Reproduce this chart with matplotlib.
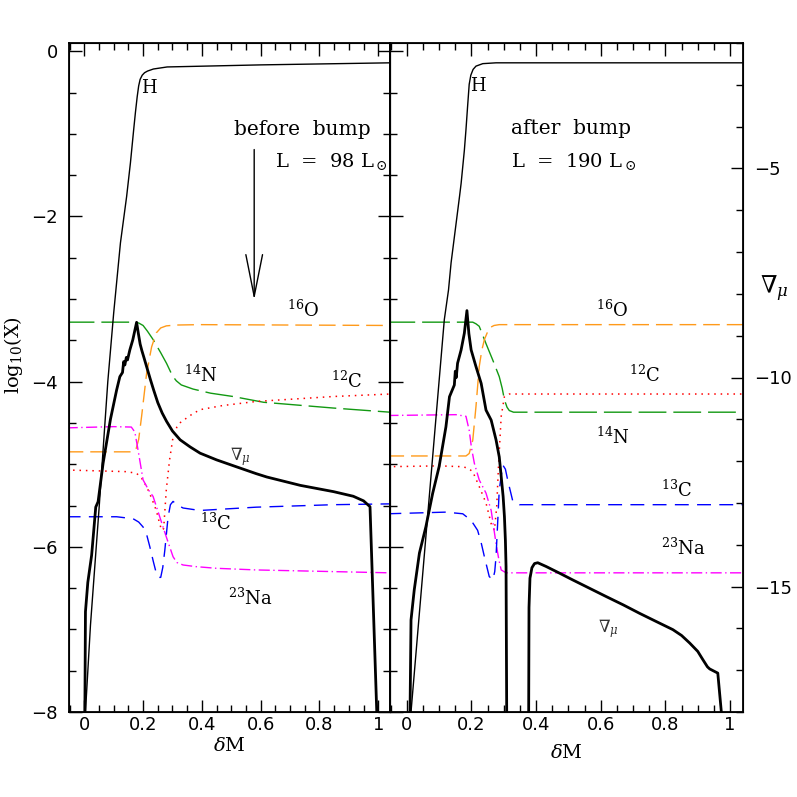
import matplotlib
matplotlib.use("Agg")
import matplotlib.pyplot as plt
from matplotlib.ticker import MultipleLocator, FormatStrFormatter

plt.rcParams['font.family'] = 'DejaVu Serif'
plt.rcParams['mathtext.fontset'] = 'dejavuserif'

# ---- data: before bump (left panel) ----
h_b_x = [0.004, 0.021, 0.05, 0.08, 0.1, 0.123, 0.144, 0.157, 0.168, 0.174, 0.18, 0.185, 0.19, 0.197,
         0.205, 0.215, 0.235, 0.282, 0.6, 1.04]
h_b_y = [-8.0, -6.95, -5.55, -4.0, -3.17, -2.32, -1.76, -1.35, -0.95, -0.74, -0.55, -0.42, -0.34, -0.29,
         -0.26, -0.24, -0.215, -0.19, -0.165, -0.14]

n14_b_x = [-0.06, 0.17, 0.185, 0.2, 0.215, 0.234, 0.26, 0.28, 0.3, 0.313, 0.33, 0.37, 0.43, 0.506, 0.61, 0.848, 1.04]
n14_b_y = [-3.28, -3.28, -3.29, -3.32, -3.39, -3.49, -3.65, -3.78, -3.93, -3.99, -4.04, -4.09, -4.14, -4.18, -4.25, -4.32, -4.37]

o16_b_x = [-0.06, 0.165, 0.175, 0.185, 0.195, 0.212, 0.229, 0.245, 0.26, 0.279, 0.31, 0.393, 1.04]
o16_b_y = [-4.85, -4.85, -4.83, -4.70, -4.42, -3.90, -3.58, -3.41, -3.35, -3.325, -3.315, -3.31, -3.32]

c12_b_x = [-0.06, 0.144, 0.178, 0.195, 0.212, 0.23, 0.245, 0.255, 0.263, 0.27, 0.279, 0.29, 0.302,
           0.315, 0.325, 0.36, 0.393, 0.47, 0.585, 0.848, 1.04]
c12_b_y = [-5.07, -5.09, -5.11, -5.17, -5.27, -5.42, -5.56, -5.70, -5.80, -5.78, -5.31, -4.95, -4.67,
           -4.55, -4.50, -4.41, -4.34, -4.29, -4.24, -4.18, -4.15]

na23_b_x = [-0.06, 0.1, 0.16, 0.172, 0.183, 0.2, 0.22, 0.234, 0.257, 0.279, 0.302, 0.315, 0.336, 0.38,
            0.449, 0.585, 1.04]
na23_b_y = [-4.56, -4.545, -4.55, -4.61, -4.83, -5.19, -5.32, -5.39, -5.64, -5.88, -6.12, -6.19, -6.22,
            -6.24, -6.26, -6.28, -6.315]

c13_b_x = [-0.06, 0.11, 0.166, 0.185, 0.2, 0.212, 0.223, 0.235, 0.245, 0.253, 0.26, 0.267, 0.274, 0.285,
           0.293, 0.302, 0.315, 0.336, 0.393, 0.585, 0.848, 1.04]
c13_b_y = [-5.636, -5.636, -5.66, -5.70, -5.76, -5.85, -6.0, -6.18, -6.32, -6.37, -6.37, -6.25, -6.04,
           -5.64, -5.49, -5.45, -5.49, -5.53, -5.56, -5.52, -5.49, -5.48]

grad_b_x = [0.002, 0.004, 0.012, 0.025, 0.039, 0.047, 0.064, 0.089, 0.098, 0.110, 0.121, 0.13, 0.134,
            0.138, 0.143, 0.147, 0.155, 0.165, 0.178, 0.184, 0.19, 0.196, 0.202, 0.212, 0.225, 0.236,
            0.25, 0.265, 0.28, 0.3, 0.326, 0.36, 0.394, 0.45, 0.507, 0.585, 0.621, 0.735, 0.848,
            0.915, 0.95, 0.972, 0.995]
grad_b_y = [-18.0, -15.6, -14.9, -14.25, -13.1, -12.97, -12.05, -11.0, -10.70, -10.30, -9.98, -9.88,
            -9.62, -9.7, -9.52, -9.58, -9.34, -9.1, -8.68, -8.95, -9.2, -9.36, -9.5, -9.74, -10.05,
            -10.3, -10.6, -10.85, -11.05, -11.28, -11.49, -11.66, -11.81, -11.97, -12.11, -12.30,
            -12.38, -12.58, -12.73, -12.84, -12.95, -13.09, -18.0]

# ---- data: after bump (right panel) ----
h_a_x = [0.013, 0.037, 0.116, 0.129, 0.137, 0.163, 0.168, 0.178, 0.183, 0.188, 0.193, 0.198, 0.205,
         0.214, 0.235, 0.276, 1.04]
h_a_y = [-8.0, -6.89, -3.25, -2.89, -2.56, -1.76, -1.6, -1.2, -0.95, -0.67, -0.40, -0.29, -0.22,
         -0.18, -0.15, -0.14, -0.14]

n14_a_x = [-0.06, 0.204, 0.214, 0.224, 0.245, 0.266, 0.286, 0.295, 0.302, 0.31, 0.317, 0.33, 0.358, 1.04]
n14_a_y = [-3.28, -3.28, -3.30, -3.33, -3.54, -3.74, -3.94, -4.08, -4.22, -4.31, -4.35, -4.37, -4.37, -4.37]

o16_a_x = [-0.06, 0.183, 0.193, 0.204, 0.214, 0.224, 0.232, 0.24, 0.255, 0.27, 0.286, 1.04]
o16_a_y = [-4.90, -4.90, -4.87, -4.71, -4.30, -3.82, -3.62, -3.49, -3.35, -3.32, -3.31, -3.31]

c12_a_x = [-0.06, 0.1, 0.173, 0.19, 0.204, 0.224, 0.245, 0.261, 0.271, 0.278, 0.284, 0.292, 0.302,
           0.317, 1.04]
c12_a_y = [-5.03, -5.02, -5.03, -5.05, -5.09, -5.27, -5.47, -5.72, -5.80, -5.52, -4.99, -4.42, -4.18,
           -4.15, -4.15]

na23_a_x = [-0.06, 0.152, 0.183, 0.193, 0.2, 0.209, 0.224, 0.245, 0.261, 0.276, 0.285, 0.292, 0.307, 1.04]
na23_a_y = [-4.41, -4.40, -4.42, -4.59, -4.80, -4.99, -5.19, -5.35, -5.56, -5.96, -6.16, -6.28, -6.315, -6.315]

c13_a_x = [-0.06, 0.121, 0.173, 0.199, 0.219, 0.23, 0.24, 0.255, 0.266, 0.272, 0.276, 0.286, 0.297,
           0.305, 0.312, 0.328, 0.348, 1.04]
c13_a_y = [-5.60, -5.58, -5.60, -5.68, -5.80, -5.95, -6.12, -6.36, -6.40, -6.30, -6.12, -5.31, -5.01,
           -5.06, -5.19, -5.45, -5.49, -5.49]

grad_a1_x = [0.01, 0.013, 0.023, 0.039, 0.059, 0.08, 0.1, 0.121, 0.132, 0.147, 0.150, 0.153, 0.157, 0.168,
             0.178, 0.186, 0.192, 0.199, 0.214, 0.23, 0.245, 0.261, 0.276, 0.286, 0.292, 0.298, 0.302,
             0.305, 0.307, 0.309]
grad_a1_y = [-18.0, -15.8, -15.08, -14.2, -13.57, -12.77, -12.13, -11.18, -10.46, -10.18, -9.85, -10.0,
             -9.66, -9.34, -8.94, -8.40, -8.95, -9.34, -9.74, -10.14, -10.78, -11.02, -11.49, -11.9,
             -12.37, -12.85, -13.33, -13.9, -14.52, -18.0]

grad_a2_x = [0.377, 0.378, 0.381, 0.387, 0.395, 0.405, 0.431, 0.47, 0.513, 0.565, 0.617, 0.67, 0.72,
             0.77, 0.823, 0.85, 0.875, 0.9, 0.916, 0.93, 0.937, 0.962, 0.973]
grad_a2_y = [-18.0, -15.5, -14.8, -14.55, -14.45, -14.43, -14.52, -14.67, -14.84, -15.04, -15.24,
             -15.44, -15.64, -15.83, -16.03, -16.17, -16.35, -16.55, -16.75, -16.92, -16.97, -17.07, -18.0]

x_ticks = [0, 0.2, 0.4, 0.6, 0.8, 1]

# styles
sty = {
    'n14': dict(color='#129912', lw=1.0, dashes=(20, 5)),
    'o16': dict(color='#ff9a1a', lw=1.0, dashes=(12, 5)),
    'c12': dict(color='red', lw=1.1, dashes=(1, 3.2)),
    'na23': dict(color='magenta', lw=1.0, dashes=(8, 2.5, 1, 2.5)),
    'c13': dict(color='blue', lw=1.0, dashes=(10, 6)),
}

fig = plt.figure(figsize=(7.97, 7.97), dpi=100)
W, H = 797.0, 797.0
ax1 = fig.add_axes([69 / W, 1 - 712 / H, 321 / W, 669 / H])
ax2 = fig.add_axes([390 / W, 1 - 712 / H, 353 / W, 669 / H])
ax1t = ax1.twinx()
ax2t = ax2.twinx()


def draw(ax, hx, hy, nx, ny, ox, oy, cx, cy, ax_, ay, bx, by):
    ax.plot(nx, ny, **sty['n14'])
    ax.plot(ox, oy, **sty['o16'])
    ax.plot(cx, cy, **sty['c12'])
    ax.plot(ax_, ay, **sty['na23'])
    ax.plot(bx, by, **sty['c13'])
    ax.plot(hx, hy, color='black', lw=1.0)


draw(ax1, h_b_x, h_b_y, n14_b_x, n14_b_y, o16_b_x, o16_b_y, c12_b_x, c12_b_y,
     na23_b_x, na23_b_y, c13_b_x, c13_b_y)
draw(ax2, h_a_x, h_a_y, n14_a_x, n14_a_y, o16_a_x, o16_a_y, c12_a_x, c12_a_y,
     na23_a_x, na23_a_y, c13_a_x, c13_a_y)

ax1t.plot(grad_b_x, grad_b_y, color='black', lw=2.0)
ax2t.plot(grad_a1_x, grad_a1_y, color='black', lw=2.0)
ax2t.plot(grad_a2_x, grad_a2_y, color='black', lw=2.0)

for ax in (ax1, ax2):
    ax.set_xlim(-0.052, 1.04)
    ax.set_ylim(-8, 0.1)
    ax.set_xticks(x_ticks)
    ax.xaxis.set_minor_locator(MultipleLocator(0.05))
    ax.yaxis.set_major_locator(MultipleLocator(2))
    ax.yaxis.set_minor_locator(MultipleLocator(0.5))
    ax.xaxis.set_major_formatter(FormatStrFormatter('%g'))
    ax.tick_params(which='both', direction='in', top=True, width=1.0, labelsize=13, pad=8)
    ax.tick_params(axis='x', pad=3)
    ax.tick_params(which='major', length=9)
    ax.tick_params(which='minor', length=5)
    for s in ax.spines.values():
        s.set_linewidth(1.3)
    ax.set_xlabel(r'$\delta$M', fontsize=14)
    for lab in ax.get_xticklabels() + ax.get_yticklabels():
        lab.set_family('DejaVu Sans')

ax1.tick_params(which='both', left=True, right=True)
ax2.tick_params(which='both', left=True, right=False, labelleft=False)
ax1.set_ylabel(r'log$_{10}$(X)', fontsize=14)
ax1.yaxis.set_label_coords(-0.137, 0.534)
ax1.xaxis.set_label_coords(0.5, -0.037)
ax2.xaxis.set_label_coords(0.5, -0.048)

for axt in (ax1t, ax2t):
    axt.set_ylim(-18, -2)
    axt.yaxis.set_major_locator(MultipleLocator(5))
    axt.yaxis.set_minor_locator(MultipleLocator(1))
ax1t.tick_params(which='both', right=False, labelright=False)
ax2t.tick_params(which='both', direction='in', right=True, labelsize=13, pad=8, width=1.0)
ax2t.tick_params(which='major', length=9)
ax2t.tick_params(which='minor', length=5)
for lab in ax2t.get_yticklabels():
    lab.set_family('DejaVu Sans')
ax2t.set_ylabel(r'$\nabla_\mu$', fontsize=17, rotation=0, va='center')
ax2t.yaxis.set_label_coords(1.09, 0.632)

# annotations, left
fs = 13
ax1.text(0.218, -0.44, 'H', fontsize=fs, ha='center', va='center')
ax1.text(0.743, -0.95, 'before  bump', fontsize=14.5, ha='center', va='center')
ax1.text(0.65, -1.34, r'L  =  98 L$_\odot$', fontsize=14, ha='left', va='center')
ax1.annotate('', xy=(0.578, -3.01), xytext=(0.578, -1.19),
             arrowprops=dict(arrowstyle='->,head_length=1.5,head_width=0.3', lw=1.0,
                             color='black', mutation_scale=20, shrinkA=0, shrinkB=0))
ax1.text(0.745, -3.13, r'$^{16}$O', fontsize=fs, ha='center', va='center')
ax1.text(0.395, -3.92, r'$^{14}$N', fontsize=fs, ha='center', va='center')
ax1.text(0.893, -4.0, r'$^{12}$C', fontsize=fs, ha='center', va='center')
ax1.text(0.531, -4.91, r'$\nabla_\mu$', fontsize=12, ha='center', va='center', color='#333333')
ax1.text(0.446, -5.71, r'$^{13}$C', fontsize=fs, ha='center', va='center')
ax1.text(0.565, -6.62, r'$^{23}$Na', fontsize=fs, ha='center', va='center')

# annotations, right
ax2.text(0.219, -0.42, 'H', fontsize=fs, ha='center', va='center')
ax2.text(0.323, -0.93, 'after  bump', fontsize=14.5, ha='left', va='center')
ax2.text(0.323, -1.33, r'L  =  190 L$_\odot$', fontsize=14, ha='left', va='center')
ax2.text(0.637, -3.13, r'$^{16}$O', fontsize=fs, ha='center', va='center')
ax2.text(0.735, -3.92, r'$^{12}$C', fontsize=fs, ha='center', va='center')
ax2.text(0.637, -4.67, r'$^{14}$N', fontsize=fs, ha='center', va='center')
ax2.text(0.835, -5.32, r'$^{13}$C', fontsize=fs, ha='center', va='center')
ax2.text(0.854, -6.02, r'$^{23}$Na', fontsize=fs, ha='center', va='center')
ax2.text(0.622, -6.99, r'$\nabla_\mu$', fontsize=12, ha='center', va='center', color='#333333')

fig.savefig('out.png', dpi=100)
